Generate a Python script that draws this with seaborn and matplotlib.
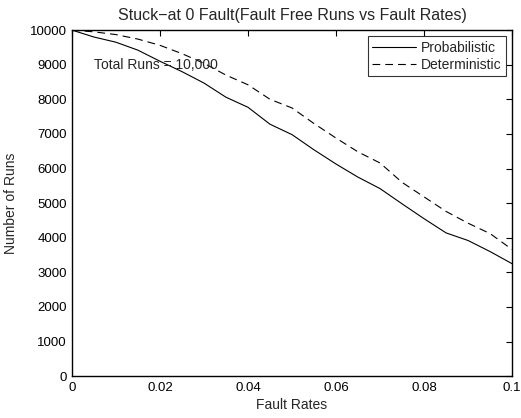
import matplotlib
matplotlib.use("Agg")
import matplotlib.pyplot as plt
import seaborn as sns
import pandas as pd

# Datos
fault_rates = [0.0, 0.005, 0.01, 0.015, 0.02, 0.025, 0.03, 0.035, 0.04, 0.045, 0.05,
               0.055, 0.06, 0.065, 0.07, 0.075, 0.08, 0.085, 0.09, 0.095, 0.1]
probabilistic = [10000, 9800, 9650, 9420, 9100, 8800, 8470, 8060, 7770, 7280, 6980,
                 6540, 6130, 5750, 5420, 4980, 4550, 4140, 3920, 3600, 3250]
deterministic = [10000, 9950, 9870, 9740, 9560, 9320, 9040, 8700, 8420, 8000, 7750,
                 7300, 6880, 6480, 6160, 5600, 5180, 4760, 4420, 4120, 3660]
series_names = ["Probabilistic", "Deterministic"]
x_ticks = [0, 0.02, 0.04, 0.06, 0.08, 0.1]
x_tick_labels = ["0", "0.02", "0.04", "0.06", "0.08", "0.1"]
y_ticks = list(range(0, 10001, 1000))

df = pd.DataFrame({
    "Fault Rates": fault_rates * 2,
    "Number of Runs": probabilistic + deterministic,
    "Method": [series_names[0]] * len(fault_rates) + [series_names[1]] * len(fault_rates),
})

sns.set_style("white")
plt.rcParams["font.family"] = ["Liberation Sans", "DejaVu Sans"]
plt.rcParams["font.size"] = 10

fig = plt.figure(figsize=(5.21, 4.18), dpi=100)
ax = fig.add_axes([0.138, 0.100, 0.845, 0.828])

sns.lineplot(data=df, x="Fault Rates", y="Number of Runs", style="Method",
             dashes={series_names[0]: "", series_names[1]: (7, 4.5)},
             color="black", linewidth=0.8, ax=ax, legend=True)

ax.set_xlim(0, 0.1)
ax.set_ylim(0, 10000)
ax.set_xticks(x_ticks)
ax.set_xticklabels(x_tick_labels)
ax.set_yticks(y_ticks)
ax.tick_params(direction="in", top=True, right=True, length=4, width=0.8,
               labelsize=9.5, colors="black")
ax.tick_params(axis="x", pad=4)
for s in ax.spines.values():
    s.set_visible(True)
    s.set_color("black")
    s.set_linewidth(1.0)

ax.set_title("Stuck\u2212at 0 Fault(Fault Free Runs vs Fault Rates)", fontsize=11.5, pad=7)
ax.set_xlabel("Fault Rates", fontsize=10, labelpad=3)
ax.set_ylabel("Number of Runs", fontsize=10, labelpad=9)

ax.text(0.005, 9000, "Total Runs = 10,000", fontsize=10, va="center", ha="left")

leg = ax.legend(loc="upper right", frameon=True, fancybox=False, fontsize=10,
                handlelength=3.1, borderpad=0.3, labelspacing=0.25,
                borderaxespad=0.45, handletextpad=0.4)
leg.get_frame().set_edgecolor("black")
leg.get_frame().set_linewidth(0.8)

fig.savefig("out.png", dpi=100)
